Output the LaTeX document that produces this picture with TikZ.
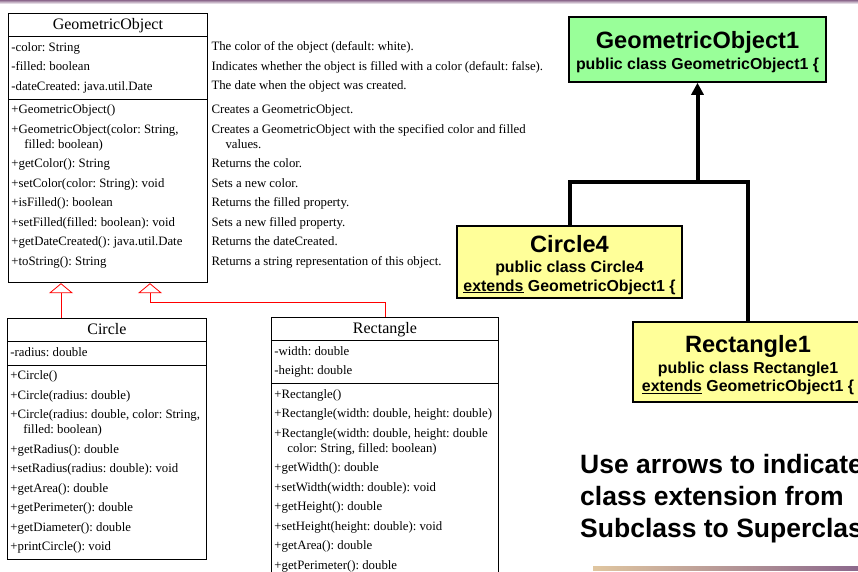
\documentclass[tikz,border=0pt]{standalone}
\usepackage{fontspec}
\setmainfont{Liberation Serif}
\setsansfont{Liberation Sans}
\usetikzlibrary{shapes.multipart,arrows.meta}
\frenchspacing
\definecolor{slidepurple}{RGB}{140,104,140}
\definecolor{slidetan}{RGB}{224,198,160}
\definecolor{supergreen}{RGB}{153,255,153}
\definecolor{subyellow}{RGB}{255,255,153}
\newcommand{\umlfont}{\fontsize{12.8}{15}\selectfont}
\newcommand{\umltitle}[1]{\smash{\fontsize{16}{18}\selectfont #1}\rule[-2pt]{0pt}{14pt}}
\newcommand{\boxtitle}[1]{{\fontsize{23.6}{18.5}\selectfont\rule{0pt}{23pt}#1}}

\begin{document}
\begin{tikzpicture}[
    x=1pt, y=-1pt,
    umlclass/.style={draw, line width=0.8pt, rectangle split, rectangle split parts=3,
      rectangle split part align={center,left,left}, align=left, anchor=north west,
      inner xsep=3pt, inner ysep=4pt, font=\umlfont},
    desc/.style={align=left, inner sep=0pt, anchor=north west, font=\umlfont},
    inherit/.style={draw=red, line width=0.8pt, -{Triangle[open, length=10pt, width=24pt]}},
    superbox/.style={draw, line width=1.6pt, fill=supergreen, align=center, inner sep=0pt,
      font=\sffamily\bfseries\fontsize{15.9}{18.5}\selectfont},
    subbox/.style={superbox, fill=subyellow},
    hier/.style={draw, line width=4pt}
  ]
  \useasboundingbox (0,0) rectangle (858,572);
  \fill[white] (0,0) rectangle (858,572);
  \shade[top color=slidepurple, bottom color=white] (0,0) rectangle (858,4);
  \shade[left color=slidetan, right color=slidepurple] (593,566) rectangle (858,570);

  \node[umlclass, minimum width=199pt] (geo) at (8,13) {\umltitle{GeometricObject}
    \nodepart{second}\strut-color: String\\[4.5pt]-filled: boolean\\[4.5pt]-dateCreated: java.util.Date\strut
    \nodepart{third}\strut+GeometricObject()\\[4.5pt]+GeometricObject(color: String,\\\hspace*{13pt}filled: boolean)\\[4.5pt]+getColor(): String\\[4.5pt]+setColor(color: String): void\\[4.5pt]+isFilled(): boolean\\[4.5pt]+setFilled(filled: boolean): void\\[4.5pt]+getDateCreated(): java.util.Date\\[4.5pt]+toString(): String\rule[-13pt]{0pt}{0pt}};
  \node[desc, xshift=3.5pt, yshift=-4pt] (geoattrdesc) at (geo.one split east) {\strut The color of the object (default: white).\\[4.5pt]Indicates whether the object is filled with a color (default: false).\\[4.5pt]The date when the object was created.\strut};
  \node[desc, xshift=3.5pt, yshift=-4pt] (geoopdesc) at (geo.two split east) {\strut Creates a GeometricObject.\\[4.5pt]Creates a GeometricObject with the specified color and filled\\\hspace*{14pt}values.\\[4.5pt]Returns the color.\\[4.5pt]Sets a new color.\\[4.5pt]Returns the filled property.\\[4.5pt]Sets a new filled property.\\[4.5pt]Returns the dateCreated.\\[4.5pt]Returns a string representation of this object.\strut};

  \node[umlclass, minimum width=199pt] (circle) at (7,318) {\umltitle{Circle}
    \nodepart{second}\strut-radius: double\strut
    \nodepart{third}\strut+Circle()\\[4.5pt]+Circle(radius: double)\\[4.5pt]+Circle(radius: double, color: String,\\\hspace*{13pt}filled: boolean)\\[4.5pt]+getRadius(): double\\[4.5pt]+setRadius(radius: double): void\\[4.5pt]+getArea(): double\\[4.5pt]+getPerimeter(): double\\[4.5pt]+getDiameter(): double\\[4.5pt]+printCircle(): void\strut};
  \node[umlclass, minimum width=227pt] (rect) at (271,317) {\umltitle{Rectangle}
    \nodepart{second}\strut-width: double\\[4.5pt]-height: double\strut
    \nodepart{third}\strut+Rectangle()\\[4.5pt]+Rectangle(width: double, height: double)\\[4.5pt]+Rectangle(width: double, height: double\\\hspace*{13pt}color: String, filled: boolean)\\[4.5pt]+getWidth(): double\\[4.5pt]+setWidth(width: double): void\\[4.5pt]+getHeight(): double\\[4.5pt]+setHeight(height: double): void\\[4.5pt]+getArea(): double\\[4.5pt]+getPerimeter(): double\strut};

  \coordinate[xshift=53pt] (tipA) at (geo.south west);
  \coordinate[xshift=142pt] (tipB) at (geo.south west);
  \draw[inherit] (circle.north -| tipA) -- (tipA);
  \draw[inherit] (rect.north) -- ++(0,-15) -| (tipB);

  \node[superbox, minimum width=257pt, minimum height=65pt] (geo1) at (697.5,49.5) {\boxtitle{GeometricObject1}\\[2.5pt]public class GeometricObject1 \{};
  \node[subbox, minimum width=225pt, minimum height=72pt] (circle4) at (569.5,262) {\boxtitle{Circle4}\\[1.5pt]public class Circle4\\\underline{extends} GeometricObject1 \{};
  \node[subbox, minimum width=230pt, minimum height=80pt] (rect1) at (748,362) {\boxtitle{Rectangle1}\\[2.5pt]public class Rectangle1\\\underline{extends} GeometricObject1 \{};

  \coordinate[yshift=-99pt] (fork) at (geo1.south);
  \draw[hier] (circle4.north) |- (fork) -| (rect1.north);
  \draw[hier, -{Triangle[length=12pt, width=12pt]}] (fork) -- (geo1.south);

  \node[align=left, inner sep=0pt, anchor=north west, font=\sffamily\bfseries\fontsize{26.5}{32}\selectfont] (note) at (580,454) {Use arrows to indicate\\class extension from\\Subclass to Superclass};
\end{tikzpicture}
\end{document}
